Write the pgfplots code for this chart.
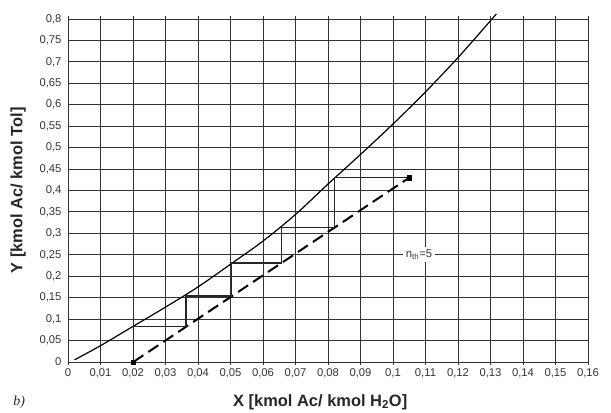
\documentclass[border=0pt]{standalone}
\usepackage{pgfplots}
\pgfplotsset{compat=1.18}
\usepackage{fontspec}
\setmainfont{Liberation Sans}
\newfontfamily\serifit{Liberation Serif}
\begin{document}
\begin{tikzpicture}
\begin{axis}[
  scale only axis,
  width=520bp, height=343bp,
  xmin=0, xmax=0.16, ymin=0, ymax=0.8,
  xtick={0,0.01,0.02,0.03,0.04,0.05,0.06,0.07,0.08,0.09,0.1,0.11,0.12,0.13,0.14,0.15,0.16},
  xticklabels={0,{0,01},{0,02},{0,03},{0,04},{0,05},{0,06},{0,07},{0,08},{0,09},{0,1},{0,11},{0,12},{0,13},{0,14},{0,15},{0,16}},
  ytick={0,0.05,0.1,0.15,0.2,0.25,0.3,0.35,0.4,0.45,0.5,0.55,0.6,0.65,0.7,0.75,0.8},
  yticklabels={0,{0,05},{0,1},{0,15},{0,2},{0,25},{0,3},{0,35},{0,4},{0,45},{0,5},{0,55},{0,6},{0,65},{0,7},{0,75},{0,8}},
  grid=major,
  grid style={black!80, line width=0.9bp},
  axis line style={black!80, line width=0.9bp},
  tick align=outside,
  major tick length=3bp,
  ytick style={draw=none},
  xtick style={black!80, line width=0.9bp},
  tick label style={font=\fontsize{11.3}{13}\selectfont, text=black!80},
  scaled ticks=false,
  clip=false,
  xlabel={X [kmol Ac/ kmol H\textsubscript{2}O]},
  ylabel={Y [kmol Ac/ kmol Tol]},
  label style={font=\bfseries\fontsize{16.5}{19}\selectfont, text=black!85},
  xlabel style={at={(axis description cs:0.485,-0.1166)}, anchor=center},
  ylabel style={at={(axis description cs:-0.096,0.5)}, anchor=center},
]
% equilibrium curve
\addplot[black, line width=1.2bp, smooth] coordinates {
  (0.002,0.005) (0.01,0.038) (0.02,0.083) (0.03,0.128) (0.04,0.175)
  (0.05,0.228) (0.06,0.282) (0.07,0.344) (0.08,0.415) (0.09,0.484)
  (0.10,0.555) (0.11,0.630) (0.12,0.710) (0.13,0.796) (0.1318,0.812)
};
% operating line
\addplot[black, line width=2bp, dash pattern=on 12bp off 6bp] coordinates {
  (0.0201,0.0) (0.105,0.43)
};
\addplot[only marks, mark=square*, mark size=2.2bp, black] coordinates {
  (0.0201,0.0) (0.105,0.43)
};
% steps
\addplot[black!85, line width=1.1bp] coordinates {
  (0.105,0.43) (0.082,0.43) (0.082,0.314) (0.0656,0.314) (0.0656,0.231)
  (0.0504,0.231) (0.0504,0.154) (0.0363,0.154) (0.0363,0.0827)
  (0.0201,0.0827) (0.0201,0.0)
};
\node[fill=white, inner sep=2.5bp, font=\fontsize{11.3}{13}\selectfont, text=black!80]
  at (axis cs:0.108,0.25) {n\textsubscript{th}=5};
\node[font=\serifit\itshape\fontsize{14}{16}\selectfont, text=black!85]
  at (axis description cs:-0.094,-0.1166) {b)};
\end{axis}
\path ([xshift=-68bp,yshift=-51bp]current axis.south west) rectangle ([xshift=23bp,yshift=19bp]current axis.north east);
\end{tikzpicture}
\end{document}
